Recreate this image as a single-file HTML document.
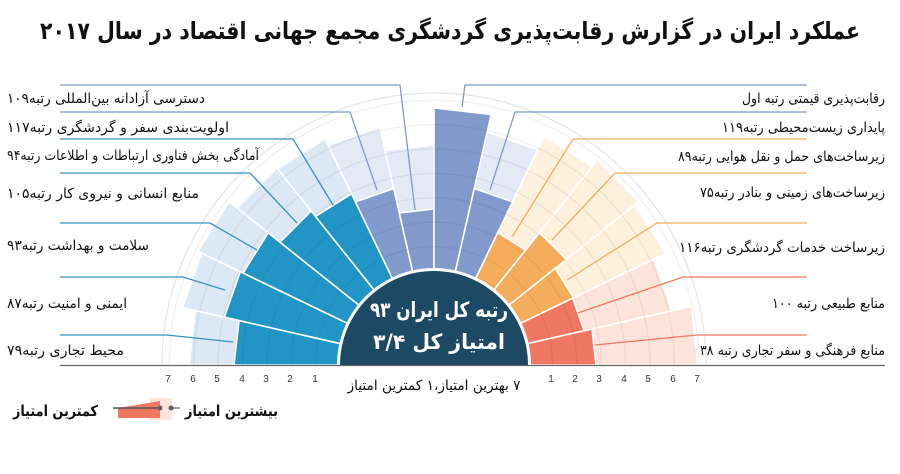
<!DOCTYPE html>
<html><head><meta charset="utf-8"><style>
html,body{margin:0;padding:0;background:#fff;}
svg{display:block;font-family:"DejaVu Sans",sans-serif;}
</style></head><body>
<svg id="s" width="900" height="474" viewBox="0 0 900 474" xmlns="http://www.w3.org/2000/svg">
<g id="bg"></g><g id="bars"></g><g id="grid"></g><g id="lines"></g>
<circle cx="434" cy="365" r="97" fill="#fff"/>
<circle cx="434" cy="365" r="94" fill="#1e4965"/>
<rect x="0" y="366" width="900" height="108" fill="#fff"/>
<line x1="60" y1="365.5" x2="885" y2="365.5" stroke="#666" stroke-width="1.2"/>
<text x="450" y="39" font-size="24" font-weight="bold" text-anchor="middle" direction="rtl" textLength="820" lengthAdjust="spacingAndGlyphs" fill="#111">عملکرد ایران در گزارش رقابت‌پذیری گردشگری مجمع جهانی اقتصاد در سال ۲۰۱۷</text>
<text x="439" y="317" font-size="21" font-weight="bold" fill="#fff" text-anchor="middle" direction="rtl" textLength="138" lengthAdjust="spacingAndGlyphs">رتبه کل ایران ۹۳</text>
<text x="439" y="349" font-size="21" font-weight="bold" fill="#fff" text-anchor="middle" direction="rtl" textLength="132" lengthAdjust="spacingAndGlyphs">امتیاز کل ۳/۴</text>
<text x="434" y="390" font-size="14" fill="#111" text-anchor="middle" direction="rtl" textLength="173" lengthAdjust="spacingAndGlyphs">۷ بهترین امتیاز،۱ کمترین امتیاز</text>
<g font-size="10" fill="#333" text-anchor="middle" font-family="Liberation Sans">
<text x="168" y="382">7</text><text x="193" y="382">6</text><text x="217" y="382">5</text><text x="242" y="382">4</text><text x="266" y="382">3</text><text x="290" y="382">2</text><text x="315" y="382">1</text>
<text x="551" y="382">1</text><text x="575" y="382">2</text><text x="599" y="382">3</text><text x="624" y="382">4</text><text x="648" y="382">5</text><text x="673" y="382">6</text><text x="697" y="382">7</text>
</g>
<!-- legend -->
<polygon points="150,398 172,398 172,420 150,420" fill="#fde4da"/>
<polygon points="118,408 160,401 160,418 118,418" fill="#f07761"/>
<line x1="113" y1="408" x2="160" y2="408" stroke="#555" stroke-width="1.5"/>
<circle cx="160" cy="408" r="2.5" fill="#666"/><circle cx="171" cy="408" r="2.5" fill="#666"/>
<line x1="171" y1="408" x2="180" y2="408" stroke="#555" stroke-width="1.2"/>
<text x="185" y="416" font-size="15" font-weight="bold" text-anchor="end" direction="rtl" fill="#111" textLength="93" lengthAdjust="spacingAndGlyphs">بیشترین امتیاز</text>
<text x="13" y="416" font-size="15" font-weight="bold" text-anchor="end" direction="rtl" fill="#111" textLength="85" lengthAdjust="spacingAndGlyphs">کمترین امتیاز</text>
<g id="labels" font-size="14" fill="#111"></g>
</svg>
<script>
var NS="http://www.w3.org/2000/svg",cx=434,cy=365;
function el(p,t,a){var e=document.createElementNS(NS,t);for(var k in a)e.setAttribute(k,a[k]);document.getElementById(p).appendChild(e);return e;}
function pt(r,a){a=a*Math.PI/180;return [cx+r*Math.cos(a),cy-r*Math.sin(a)];}
var C={t:["#2196c6","#dce8f3"],p:["#8199cb","#e3e9f5"],o:["#f5ad5b","#fdf0dc"],r:["#f07761","#fde4da"]};
var L=[[200,245,"t"],[215,258,"t"],[212,262,"t"],[197,252,"t"],[190,251,"t"],[181,244,"p"],[156,220,"p"]];
var R=[[257,0,"p"],[181,239,"p"],[147,254,"o"],[169,262,"o"],[155,257,"o"],[154,244,"r"],[162,264,"r"]];
var w=180/14;
function wedge(g,r,a1,a2,col){var p1=pt(r,a1),p2=pt(r,a2);el(g,"polygon",{points:cx+","+cy+" "+p1.join(",")+" "+p2.join(","),fill:col,stroke:"#fff","stroke-width":"1.6"});}
L.forEach(function(b,i){var a1=180-w*i,a2=180-w*(i+1);if(b[1])wedge("bg",b[1],a1,a2,C[b[2]][1]);wedge("bars",b[0],a1,a2,C[b[2]][0]);});
R.forEach(function(b,i){var a1=90-w*i,a2=90-w*(i+1);if(b[1])wedge("bg",b[1],a1,a2,C[b[2]][1]);wedge("bars",b[0],a1,a2,C[b[2]][0]);});
for(var k=1;k<=7;k++){var r=94+24.4*k;el("grid","path",{d:"M"+(cx-r)+","+cy+" A"+r+","+r+" 0 0 1 "+(cx+r)+","+cy,fill:"none",stroke:"rgba(0,0,0,0.06)","stroke-width":"1.3"});}
el("grid","path",{d:"M"+(cx-272)+","+cy+" A272,272 0 0 1 "+(cx+272)+","+cy,fill:"none",stroke:"#e6e6e6","stroke-width":"1.3"});
var LL=[[85,400,415,210,"#8199cb"],[112,350,377,190,"#8199cb"],[139,293,333,205,"#3a90c2"],[173,250,297,223,"#3a90c2"],[223,210,257,250,"#3a90c2"],[277,183,225,290,"#3a90c2"],[335,167,233,342,"#3a90c2"]];
LL.forEach(function(l){el("lines","polyline",{points:"60,"+l[0]+" "+l[1]+","+l[0]+" "+l[2]+","+l[3],fill:"none",stroke:l[4],"stroke-width":"1.3"});});
var RL=[[85,465,462,107,"#8199cb"],[112,515,490,190,"#8199cb"],[139,573,512,237,"#f5ad5b"],[173,615,552,240,"#f5ad5b"],[223,657,567,280,"#f5ad5b"],[277,683,578,313,"#f07761"],[335,697,595,345,"#f07761"]];
RL.forEach(function(l){el("lines","polyline",{points:"807,"+l[0]+" "+l[1]+","+l[0]+" "+l[2]+","+l[3],fill:"none",stroke:l[4],"stroke-width":"1.3"});});
var LT=[[103,"دسترسی آزادانه بین‌المللی رتبه۱۰۹",198],[132,"اولویت‌بندی سفر و گردشگری رتبه۱۱۷",222],[160,"آمادگی بخش فناوری ارتباطات و اطلاعات رتبه۹۴",252],[198,"منابع انسانی و نیروی کار رتبه۱۰۵",192],[250,"سلامت و بهداشت رتبه۹۳",142],[308,"ایمنی و امنیت رتبه۸۷",120],[355,"محیط تجاری رتبه۷۹",117]];
LT.forEach(function(t){var e=el("labels","text",{x:7,y:t[0],"text-anchor":"end",direction:"rtl",textLength:t[2],lengthAdjust:"spacingAndGlyphs"});e.textContent=t[1];});
var RT=[[103,"رقابت‌پذیری قیمتی رتبه اول",143],[132,"پایداری زیست‌محیطی رتبه۱۱۹",163],[161,"زیرساخت‌های حمل و نقل هوایی رتبه۸۹",207],[197,"زیرساخت‌های زمینی و بنادر رتبه۷۵",185],[252,"زیرساخت خدمات گردشگری رتبه۱۱۶",206],[308,"منابع طبیعی رتبه ۱۰۰",113],[355,"منابع فرهنگی و سفر تجاری رتبه ۳۸",185]];
RT.forEach(function(t){var e=el("labels","text",{x:885,y:t[0],"text-anchor":"start",direction:"rtl",textLength:t[2],lengthAdjust:"spacingAndGlyphs"});e.textContent=t[1];});
</script>
</body></html>
